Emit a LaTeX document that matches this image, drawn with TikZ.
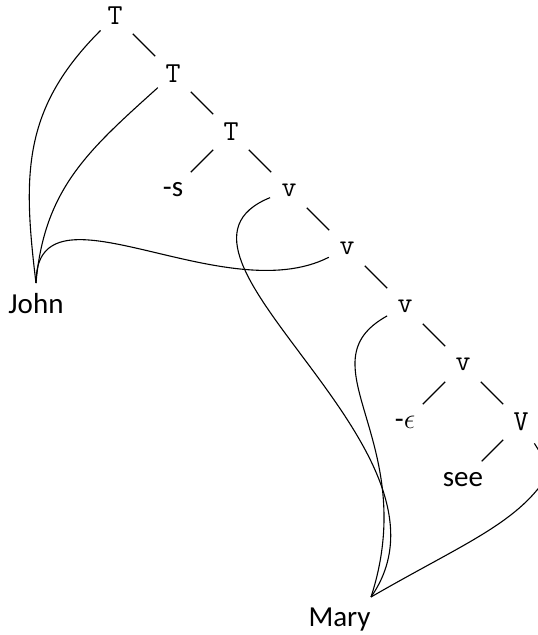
\documentclass[tikz,border=0pt]{standalone}
\usepackage{fontspec}
\setsansfont{Carlito}
\usepackage{tikz}
\usetikzlibrary{arrows.meta, positioning}

\begin{document}
\begin{tikzpicture}[
			node distance=29pt and 29pt, on grid,
			% Styles pour l'arbre
			cat/.style={circle, minimum size=20pt, inner sep=0pt, font=\fontsize{14.5}{17}\selectfont\ttfamily},
			feuille/.style={circle, minimum size=20pt, inner sep=0pt, font=\fontsize{14.5}{17}\selectfont\sffamily},
			mot/.style={inner xsep=0pt, inner ysep=5pt, font=\fontsize{14.5}{17}\selectfont\sffamily},
			branche/.style={line width=0.55pt, shorten <=2.4pt, shorten >=2.4pt},
			lien/.style={line width=0.55pt},
			]

			\useasboundingbox (-57.5pt,8pt) rectangle (211pt,-309.5pt);
			
			\node[cat] (T1) at (0,0) {T};
			\node[cat, below right=of T1] (T2) {T};
			\node[cat, below right=of T2] (T3) {T};
			\node[feuille, below left=of T3] (s) {-s};
			\node[cat, below right=of T3] (v1) {v};
			\node[cat, below right=of v1] (v2) {v};
			\node[cat, below right=of v2] (v3) {v};
			\node[cat, below right=of v3] (v4) {v};
			\node[feuille, below left=of v4] (eps) {-$\epsilon$};
			\node[cat, below right=of v4] (V) {V};
			\node[feuille, below left=of V] (see) {see};
			\coordinate[below right=24pt and 15pt of V] (trace);
			
			\draw[branche] (T1) -- (T2);
			\draw[branche] (T2) -- (T3);
			\draw[branche] (T3) -- (s);
			\draw[branche] (T3) -- (v1);
			\draw[branche] (v1) -- (v2);
			\draw[branche] (v2) -- (v3);
			\draw[branche] (v3) -- (v4);
			\draw[branche] (v4) -- (eps);
			\draw[branche] (v4) -- (V);
			\draw[branche] (V) -- (see);
			\draw[branche] (V) -- (trace);
			
			% Mouvements
			\node[mot, anchor=north] (John) at (-39.5pt,-133.5pt) {John};
			\node[mot, anchor=north east] (Mary) at (128pt,-290.5pt) {Mary};
			
			\draw[lien] (T1) to[out=-135, in=97, looseness=1.08] (John.north);
			\draw[lien] (T2) to[out=-138, in=85, looseness=1.05] (John.north);
			\draw[lien] (v2) to[out=-153, in=90, out looseness=1.04, in looseness=0.95] (John.north);
			
			\draw[lien] (v1) to[out=-158, in=55, out looseness=0.93, in looseness=1.12] (Mary.north east);
			\draw[lien] (v3) to[out=-151, in=72, out looseness=0.9, in looseness=1.5] (Mary.north east);
			\draw[lien] (trace) to[out=-120, in=30, out looseness=0.7, in looseness=1.28] (Mary.north east);
		\end{tikzpicture}
\end{document}
